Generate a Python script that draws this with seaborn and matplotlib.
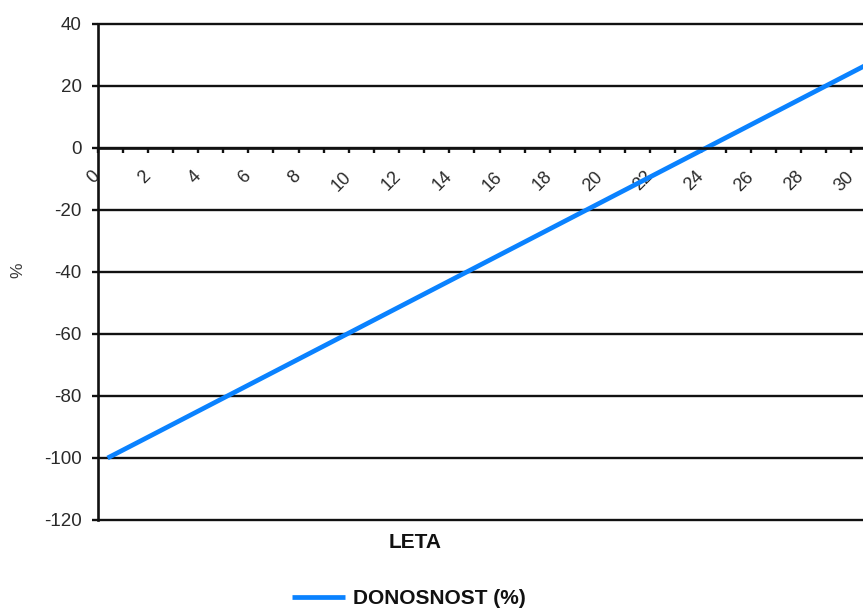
import matplotlib
matplotlib.use("Agg")
import matplotlib.pyplot as plt
import seaborn as sns
import pandas as pd

# Yield over the years
leta = [0.4, 2, 4, 6, 8, 10, 12, 14, 16, 18, 20, 22, 24, 26, 28, 30, 31]
donosnost = [-100.0, -93.3, -84.9, -76.5, -68.1, -59.7, -51.3, -42.9, -34.5,
             -26.1, -17.7, -9.3, -0.9, 7.5, 15.9, 24.3, 28.5]

x_labels = [str(v) for v in range(0, 31, 2)]
y_ticks = [-120, -100, -80, -60, -40, -20, 0, 20, 40]

sns.set_theme(style="white")
plt.rcParams["font.family"] = ["Liberation Sans", "DejaVu Sans"]

df = pd.DataFrame({"LETA": leta, "DONOSNOST": donosnost})

fig = plt.figure(figsize=(8.63, 6.10), dpi=100)
ax = fig.add_axes([97.5 / 863, 90 / 610, 779 / 863, 496 / 610])

sns.lineplot(data=df, x="LETA", y="DONOSNOST", ax=ax, color="#0a82ff",
             lw=3.4, label="DONOSNOST (%)", solid_capstyle="butt")

ax.set_xlim(0, 31)
ax.set_ylim(-120, 40)

# horizontal grid
ax.set_yticks(y_ticks)
ax.set_yticklabels([str(v) for v in y_ticks])
ax.yaxis.grid(True, color="#111111", lw=1.7)
ax.xaxis.grid(False)
ax.set_axisbelow(True)
for gl in ax.yaxis.get_gridlines():
    gl.set_clip_on(False)

# spines: value axis on the left, category axis crossing at zero
for s in ["top", "right"]:
    ax.spines[s].set_visible(False)
ax.spines["left"].set_color("#111111")
ax.spines["left"].set_linewidth(1.9)
ax.spines["bottom"].set_position(("data", 0))
ax.spines["bottom"].set_color("#111111")
ax.spines["bottom"].set_linewidth(1.9)

ax.set_xticks(list(range(0, 31, 2)))
ax.set_xticklabels(x_labels)
ax.set_xticks(list(range(1, 31, 2)), minor=True)
ax.tick_params(axis="x", which="both", direction="out", length=3.8, width=1.7,
               color="#111111", bottom=True)
ax.tick_params(axis="x", which="major", pad=15, labelsize=13,
               labelcolor="#2a2a2a")
for lab in ax.get_xticklabels():
    lab.set_rotation(45)
    lab.set_ha("right")
    lab.set_va("center")
    lab.set_rotation_mode("anchor")

ax.tick_params(axis="y", direction="out", length=4.3, width=1.7,
               color="#111111", left=True, pad=7, labelsize=13.5,
               labelcolor="#2a2a2a")

ax.set_xlabel("")
ax.set_ylabel("")
fig.text(18 / 863, 1 - 270 / 610, "%", rotation=90, ha="center", va="center",
         fontsize=12.5, color="#3a3a3a")

fig.text(415 / 863, 1 - 543 / 610, "LETA", ha="center", va="center",
         fontsize=15, fontweight="bold", color="#111111")

leg = ax.legend(loc="center", bbox_to_anchor=(409 / 863, 1 - 599 / 610),
                bbox_transform=fig.transFigure, frameon=False,
                handlelength=2.5, handletextpad=0.4,
                prop={"size": 15, "weight": "bold"})
for t in leg.get_texts():
    t.set_color("#111111")

fig.savefig("out.png", dpi=100)
